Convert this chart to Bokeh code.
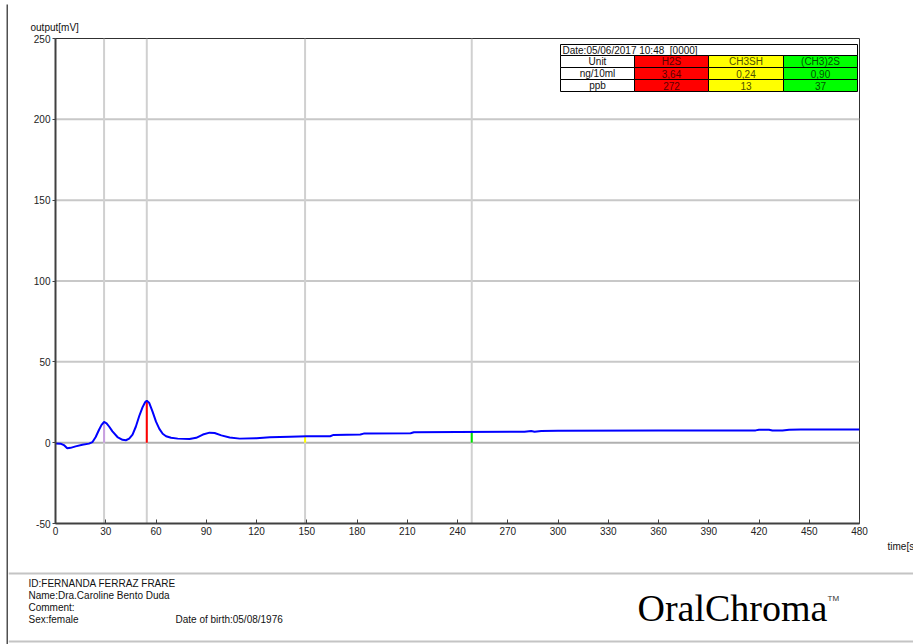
from bokeh.plotting import figure
from bokeh.models import (Label, BoxAnnotation, FixedTicker, Span, Title)
from bokeh.layouts import row, column
from bokeh.embed import file_html
from bokeh.resources import INLINE

# ---------------- data ----------------
time_s = [0, 3, 5, 7, 9, 12, 16, 20, 22, 24, 26, 27.5, 29, 30.5, 32, 34, 37, 40, 42,
          44, 46, 48, 50, 52, 53.5, 54.5, 56, 58, 60, 62, 64, 66, 69, 73, 80, 84,
          88, 92, 95, 99, 104, 110, 120, 128, 140, 150, 164, 166, 182, 184, 212,
          214, 240, 280, 284, 286, 290, 300, 360, 418, 420, 426, 428, 434, 438,
          445, 480]
output_mv = [-0.5, -0.6, -1.5, -3.5, -3.2, -2.3, -1.3, -0.6, 0.3, 3.5, 8.0, 11.0, 12.8,
             12.0, 10.0, 7.0, 3.5, 1.8, 1.5, 2.5, 5.0, 10.0, 16.5, 22.0, 25.0, 26.0,
             24.5, 19.0, 13.0, 8.5, 5.5, 4.0, 3.0, 2.5, 2.3, 3.0, 5.0, 6.2, 6.0, 4.5,
             3.2, 2.5, 2.8, 3.3, 3.7, 3.9, 4.0, 4.8, 5.0, 5.6, 5.8, 6.4, 6.6, 6.7,
             7.2, 6.8, 7.2, 7.3, 7.5, 7.6, 8.0, 8.0, 7.5, 7.6, 8.0, 8.1, 8.2]

peak_times = [29, 54.5, 149, 248.5]
peak_heights = [12.8, 26.0, 3.9, 6.6]
peak_colors = ["#c8a0e0", "#ff0000", "#ffff00", "#00e000"]

x_ticks = [0, 30, 60, 90, 120, 150, 180, 210, 240, 270, 300, 330, 360, 390, 420, 450, 480]
y_ticks = [-50, 0, 50, 100, 150, 200, 250]
y_grid = [50, 100, 150, 200]

compounds = ["H2S", "CH3SH", "(CH3)2S"]
ng_10ml = ["3,64", "0,24", "0,90"]
ppb = ["272", "13", "37"]
cell_colors = ["#ff0000", "#ffff00", "#00ff00"]
text_colors = ["#5a0000", "#505000", "#005000"]
date_text = "Date:05/06/2017 10:48\u00a0 [0000]"

footer_lines = ["ID:FERNANDA FERRAZ FRARE", "Name:Dra.Caroline Bento Duda", "Comment:", "Sex:female"]
birth_text = "Date of birth:05/08/1976"

# ---------------- page geometry ----------------
W, H = 913, 644
STRIP_W = 8
CHART_H = 566
FOOT_H = H - CHART_H
FRAME_L, FRAME_R, FRAME_T, FRAME_B = 55, 859, 38, 523
FONT = "Liberation Sans"


def make_label(fig, x, y, text, size="10px", align="left", color="#111111",
               font=FONT, baseline="middle"):
    fig.add_layout(Label(x=x, y=y, x_units="screen", y_units="screen", text=text,
                         text_font=font, text_font_size=size, text_align=align,
                         text_baseline=baseline, text_color=color))


def make_box(fig, l, r, t, b, fill, line="black", lw=1):
    fig.add_layout(BoxAnnotation(left=l, right=r, top=t, bottom=b,
                                 left_units="screen", right_units="screen",
                                 top_units="screen", bottom_units="screen",
                                 fill_color=fill, fill_alpha=1.0,
                                 line_color=line, line_width=lw, line_alpha=1.0))


def bare_figure(w, h):
    f = figure(width=w, height=h, x_range=(0, 1), y_range=(0, 1),
               output_backend="svg", toolbar_location=None, frame_align=False,
               min_border=0, min_border_left=0, min_border_right=0,
               min_border_top=0, min_border_bottom=0)
    f.axis.visible = False
    f.grid.visible = False
    f.outline_line_color = None
    f.background_fill_color = "white"
    f.border_fill_color = "white"
    return f


# ---------------- chart ----------------
p = figure(width=W - STRIP_W, height=CHART_H, x_range=(0, 480), y_range=(-50, 250),
           output_backend="svg", toolbar_location=None, frame_align=False,
           min_border_left=FRAME_L - STRIP_W, min_border_right=W - FRAME_R,
           min_border_top=FRAME_T, min_border_bottom=CHART_H - FRAME_B)
p.background_fill_color = "white"
p.border_fill_color = "white"
p.outline_line_color = "#303030"
p.outline_line_width = 1
p.xgrid.visible = False
p.ygrid.visible = False

for ax in (p.xaxis[0], p.yaxis[0]):
    ax.axis_line_color = "#404040"
    ax.axis_line_width = 2
    ax.major_tick_line_color = "#404040"
    ax.minor_tick_line_color = None
    ax.major_label_text_font = FONT
    ax.major_label_text_font_size = "10px"
    ax.major_label_text_color = "#222222"

p.xaxis.ticker = FixedTicker(ticks=x_ticks)
p.yaxis.ticker = FixedTicker(ticks=y_ticks)
p.yaxis.major_label_overrides = {-50: "-50"}
p.xaxis.major_tick_in = 4
p.xaxis.major_tick_out = 0
p.xaxis.major_label_standoff = 3
p.yaxis.major_tick_in = 0
p.yaxis.major_tick_out = 3
p.yaxis.major_label_standoff = 2

p.add_layout(Title(text="output[mV]", align="left", offset=30 - FRAME_L,
                   text_font=FONT, text_font_size="10px", text_font_style="normal",
                   text_color="#111111", standoff=12), "above")
p.add_layout(Title(text="time[s]", align="left", offset=887 - FRAME_L,
                   text_font=FONT, text_font_size="10px", text_font_style="normal",
                   text_color="#111111", standoff=2), "below")

for v in y_grid:
    p.add_layout(Span(location=v, dimension="width", line_color="#c8c8c8", line_width=2, level="underlay"))
p.add_layout(Span(location=0, dimension="width", line_color="#b0b0b0", line_width=2, level="underlay"))
for t in peak_times:
    p.add_layout(Span(location=t, dimension="height", line_color="#d0d0d0", line_width=2, level="underlay"))

p.segment(x0=peak_times, y0=[0] * len(peak_times), x1=peak_times, y1=peak_heights,
          line_color=peak_colors, line_width=2)
p.line(time_s, output_mv, line_color="#0000ff", line_width=2)


# result table (screen units relative to the frame, origin bottom-left)
def fx(x):
    return x - FRAME_L


def fy(y):
    return FRAME_B - y


col_edges = [560, 634, 708, 783, 857]
row_edges = [44, 55, 67, 79, 91]
make_box(p, fx(col_edges[0]), fx(col_edges[-1]), fy(row_edges[0]), fy(row_edges[1]), "white")
make_label(p, fx(562), fy((row_edges[0] + row_edges[1]) / 2), date_text)
row_labels = ["Unit", "ng/10ml", "ppb"]
row_values = [compounds, ng_10ml, ppb]
for r in range(3):
    top, bot = row_edges[r + 1], row_edges[r + 2]
    make_box(p, fx(col_edges[0]), fx(col_edges[1]), fy(top), fy(bot), "white")
    make_label(p, fx((col_edges[0] + col_edges[1]) / 2), fy((top + bot) / 2), row_labels[r], align="center")
    for c in range(3):
        make_box(p, fx(col_edges[c + 1]), fx(col_edges[c + 2]), fy(top), fy(bot), cell_colors[c])
        make_label(p, fx((col_edges[c + 1] + col_edges[c + 2]) / 2), fy((top + bot) / 2),
                   row_values[r][c], align="center", color=text_colors[c])

# ---------------- left page strip ----------------
strip = bare_figure(STRIP_W, H)
make_box(strip, 6, 8, H - 4, 0, "#505050", line=None)

# ---------------- footer ----------------
foot = bare_figure(W - STRIP_W, FOOT_H)


def gx(x):
    return x - STRIP_W


def gy(y):
    return H - y


make_box(foot, 0, W - STRIP_W, gy(572), gy(574), "#c4c4c4", line=None)
make_box(foot, 0, W - STRIP_W, gy(640), gy(642), "#c4c4c4", line=None)
for i, txt in enumerate(footer_lines):
    make_label(foot, gx(28), gy(583 + 12 * i), txt)
make_label(foot, gx(175), gy(619), birth_text)
make_label(foot, gx(637), gy(607), "OralChroma", size="38px", font="Liberation Serif",
           baseline="middle", color="#000000")
make_label(foot, gx(827), gy(598), "TM", size="8px", baseline="middle", color="#333333")

layout = row(strip, column(p, foot, spacing=0), spacing=0)
open("out.html", "w").write(file_html(layout, INLINE))
